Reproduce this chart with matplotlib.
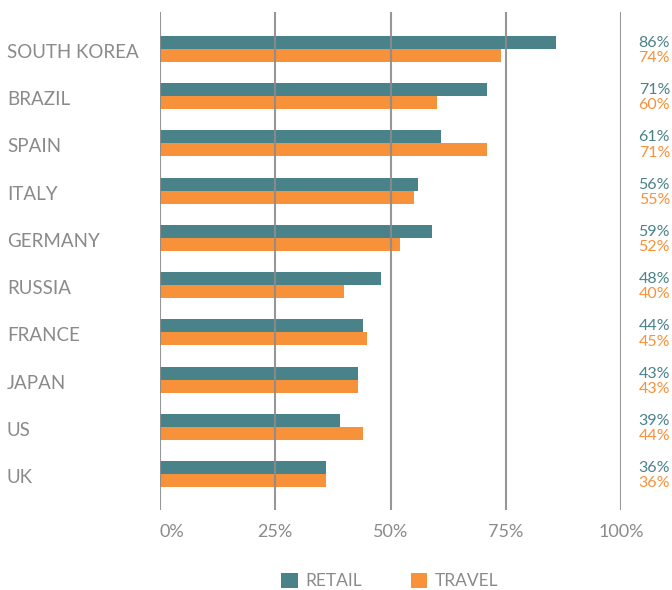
import matplotlib
matplotlib.use("Agg")
import matplotlib.pyplot as plt
from matplotlib.patches import Patch
from matplotlib.transforms import blended_transform_factory
import numpy as np

plt.rcParams['font.family'] = ['Lato', 'DejaVu Sans']

countries = ["SOUTH KOREA", "BRAZIL", "SPAIN", "ITALY", "GERMANY",
             "RUSSIA", "FRANCE", "JAPAN", "US", "UK"]
retail = [86, 71, 61, 56, 59, 48, 44, 43, 39, 36]
travel = [74, 60, 71, 55, 52, 40, 45, 43, 44, 36]
xticks = [0, 25, 50, 75, 100]
xtick_labels = ["0%", "25%", "50%", "75%", "100%"]
series_names = ["RETAIL", "TRAVEL"]

teal = "#4a8289"
orange = "#f7913a"
gray = "#8a8a8a"
grid = "#8c8c8c"

W, H = 672, 590
fig = plt.figure(figsize=(W / 100, H / 100), dpi=100)
ax = fig.add_axes([160 / W, 1 - 510 / H, (621 - 160) / W, (510 - 12) / H])

y = np.arange(len(countries))
bh = 0.275
ax.barh(y - bh / 2, retail, height=bh, color=teal, zorder=2)
ax.barh(y + bh / 2, travel, height=bh, color=orange, zorder=2)

ax.set_xlim(0, 100)
ax.set_ylim(9.76, -0.78)
for xv in xticks:
    ax.axvline(xv, color=grid, lw=1.5, zorder=3, alpha=0.9)

for s in ax.spines.values():
    s.set_visible(False)
ax.set_yticks([])
ax.set_xticks(xticks)
ax.set_xticklabels(xtick_labels, fontsize=13, color=gray)
ax.tick_params(axis='x', length=0, pad=10)
ax.get_xticklabels()[0].set_ha('left')

trans = blended_transform_factory(fig.transFigure, ax.transData)
for i, c in enumerate(countries):
    ax.text(7 / W, i + 0.19, c, transform=trans, ha='left', va='baseline',
            fontsize=13.5, color=gray)
    ax.text(670 / W, i - bh / 2 + 0.01, f"{retail[i]}%", transform=trans,
            ha='right', va='center', fontsize=11.5, color=teal)
    ax.text(670 / W, i + bh / 2 + 0.06, f"{travel[i]}%", transform=trans,
            ha='right', va='center', fontsize=11.5, color=orange)

handles = [Patch(facecolor=teal, edgecolor='none'),
           Patch(facecolor=orange, edgecolor='none')]
leg = fig.legend(handles, series_names, loc='center',
                 bbox_to_anchor=(390 / W, 1 - 581 / H), ncol=2, frameon=False,
                 fontsize=12.5, handlelength=0.95, handleheight=1.0,
                 handletextpad=0.45, columnspacing=2.8)
for t in leg.get_texts():
    t.set_color(gray)

fig.savefig("out.png", dpi=100)
